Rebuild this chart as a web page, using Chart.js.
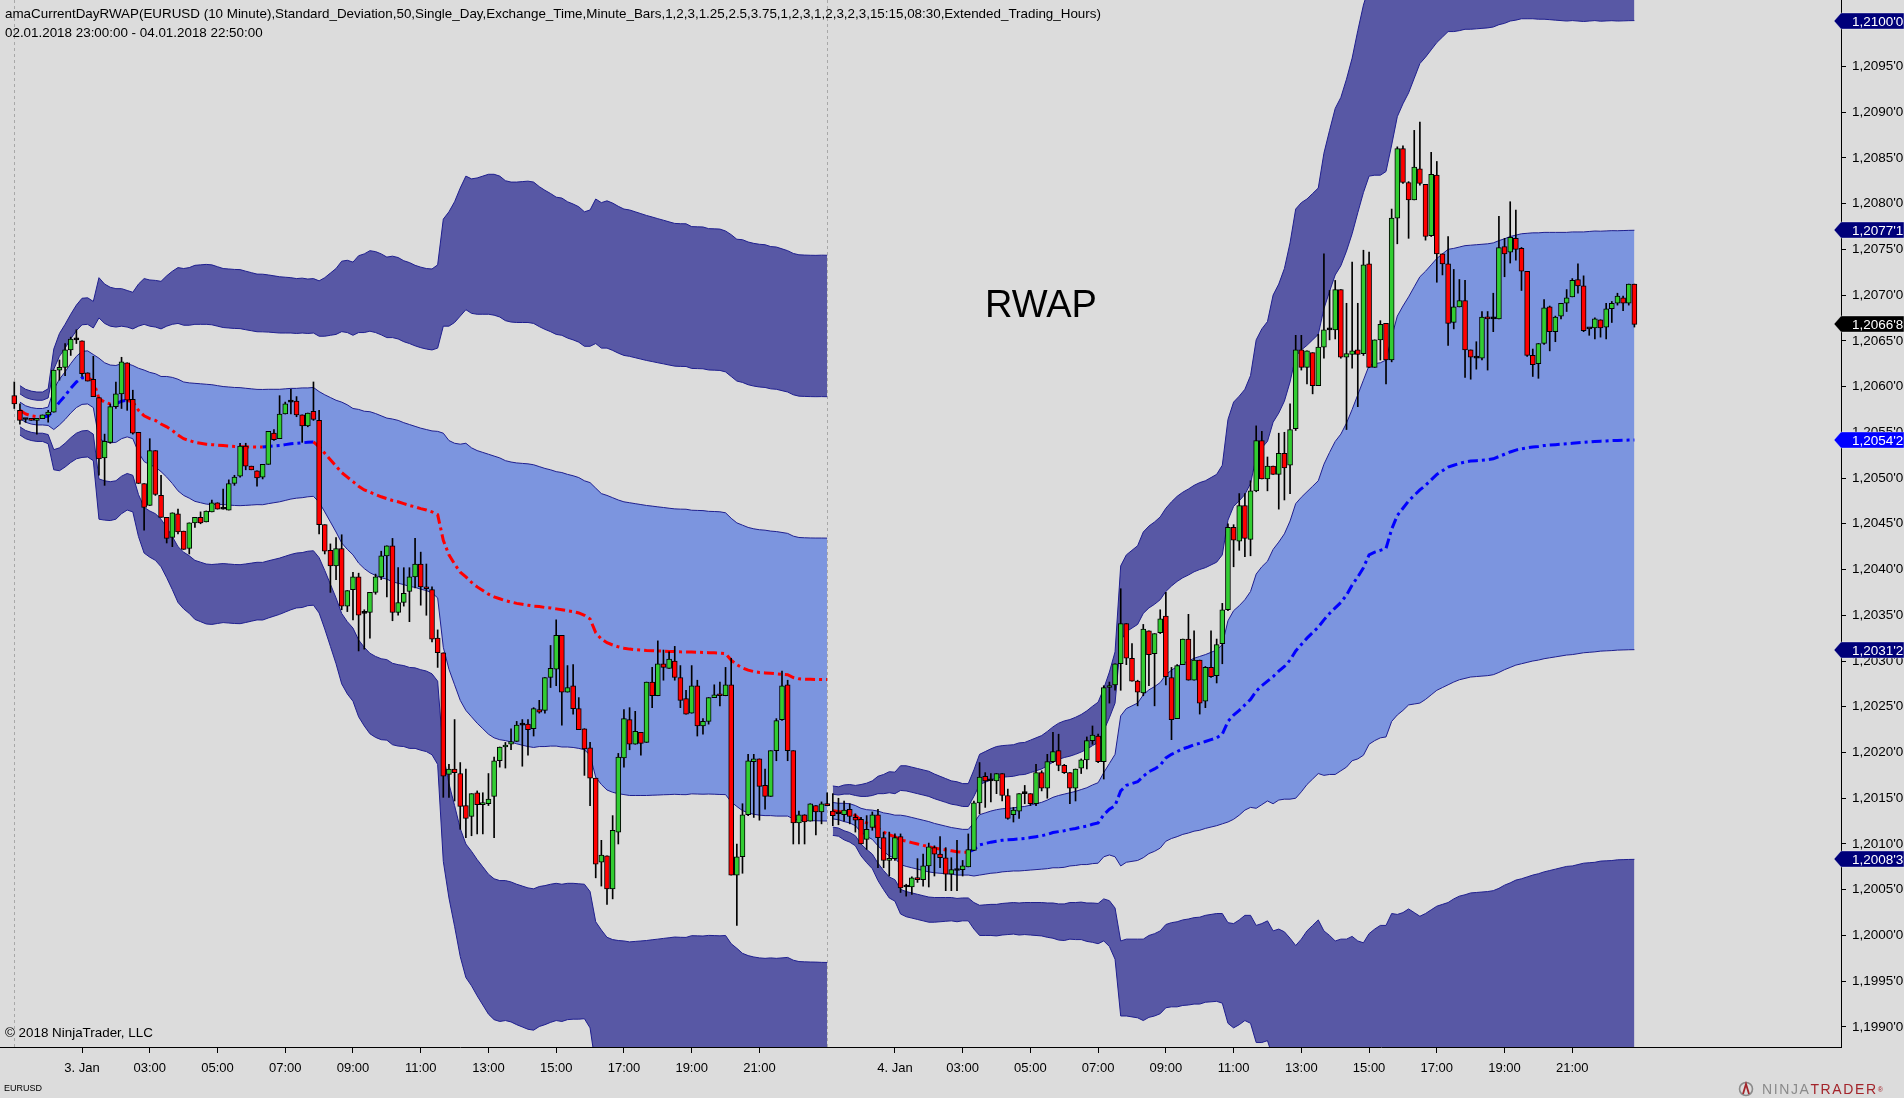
<!DOCTYPE html>
<html>
<head>
<meta charset="utf-8">
<title>amaCurrentDayRWAP - EURUSD (10 Minute)</title>
<script src="https://cdn.jsdelivr.net/npm/chart.js@4.4.1/dist/chart.umd.min.js"></script>
<style>
  html, body { margin: 0; padding: 0; background: #dcdcdc; }
  #wrap { position: relative; width: 1904px; height: 1098px; overflow: hidden; background: #dcdcdc;
          font-family: "Liberation Sans", Arial, sans-serif; }
  #chart { position: absolute; left: 0; top: 0; }
  .txt { position: absolute; color: #000; white-space: nowrap; line-height: 1; }
  .hdr { font-size: 13.4px; }
  #rwap { font-size: 38px; left: 1041px; top: 304px; transform: translate(-50%, -50%); }
  #inst { font-size: 9px; left: 4px; top: 1084px; }
  #logo { position: absolute; left: 1737px; top: 1081px; height: 16px; display: flex; align-items: center;
          font-size: 14px; letter-spacing: 1.6px; white-space: nowrap; }
  #logo .n { color: #8a8a8a; }
  #logo .t { color: #a3242a; }
  #logo sup { font-size: 7px; color: #a3242a; letter-spacing: 0; }
</style>
</head>
<body>
<div id="wrap">
  <canvas id="chart" width="1904" height="1098"></canvas>
  <div class="txt hdr" style="left:5px;top:7px">amaCurrentDayRWAP(EURUSD (10 Minute),Standard_Deviation,50,Single_Day,Exchange_Time,Minute_Bars,1,2,3,1.25,2.5,3.75,1,2,3,1,2,3,2,3,15:15,08:30,Extended_Trading_Hours)</div>
  <div class="txt hdr" style="left:5px;top:26px">02.01.2018 23:00:00 - 04.01.2018 22:50:00</div>
  <div class="txt" id="rwap">RWAP</div>
  <div class="txt hdr" style="left:5px;top:1026px">© 2018 NinjaTrader, LLC</div>
  <div class="txt" id="inst">EURUSD</div>
  <div id="logo">
    <svg width="22" height="16" viewBox="0 0 22 16" style="margin-right:3px">
      <circle cx="9" cy="8" r="6.5" fill="none" stroke="#8a8a8a" stroke-width="1.6"/>
      <path d="M6 13 L9 3 L12 13" fill="none" stroke="#a3242a" stroke-width="1.8"/>
    </svg>
    <span class="n">NINJA</span><span class="t">TRADER</span><sup>®</sup>
  </div>
</div>
<script>
// EURUSD 10 minute bars, 02.01.2018 23:00 -> 04.01.2018 22:50 (288 bars)
const opens = [
  1.20590,1.20574,1.20564,1.20565,1.20563,1.20565,1.20569,1.20572,1.20618,1.20621,1.20640,1.20651,
  1.20650,1.20615,1.20608,1.20588,1.20522,1.20539,1.20578,1.20592,1.20626,1.20586,1.20550,1.20494,
  1.20470,1.20530,1.20481,1.20457,1.20435,1.20461,1.20442,1.20423,1.20451,1.20457,1.20452,1.20463,
  1.20473,1.20466,1.20465,1.20494,1.20502,1.20535,1.20513,1.20508,1.20501,1.20515,1.20549,1.20543,
  1.20570,1.20583,1.20584,1.20569,1.20557,1.20573,1.20563,1.20449,1.20421,1.20404,1.20423,1.20360,
  1.20378,1.20392,1.20352,1.20353,1.20375,1.20392,1.20415,1.20426,1.20353,1.20364,1.20376,1.20392,
  1.20406,1.20381,1.20378,1.20325,1.20309,1.20176,1.20182,1.20177,1.20142,1.20130,1.20156,1.20143,
  1.20144,1.20152,1.20191,1.20206,1.20209,1.20212,1.20230,1.20231,1.20226,1.20247,1.20246,1.20282,
  1.20291,1.20328,1.20266,1.20273,1.20248,1.20226,1.20205,1.20172,1.20080,1.20087,1.20051,1.20113,
  1.20194,1.20236,1.20209,1.20222,1.20211,1.20277,1.20262,1.20297,1.20292,1.20300,1.20282,1.20259,
  1.20243,1.20273,1.20229,1.20234,1.20260,1.20264,1.20262,1.20274,1.20066,1.20086,1.20132,1.20190,
  1.20193,1.20164,1.20152,1.20202,1.20236,1.20274,1.20202,1.20123,1.20132,1.20125,1.20142,1.20135,
  1.20144,1.20136,1.20133,1.20132,1.20138,1.20129,1.20127,1.20105,1.20118,1.20132,1.20107,1.20082,
  1.20084,1.20108,1.20053,1.20053,1.20063,1.20061,1.20076,1.20096,1.20089,1.20085,1.20067,1.20071,
  1.20072,1.20075,1.20093,1.20145,1.20174,1.20169,1.20169,1.20177,1.20153,1.20132,1.20136,1.20155,
  1.20155,1.20144,1.20178,1.20161,1.20190,1.20202,1.20186,1.20178,1.20161,1.20183,1.20192,1.20213,
  1.20218,1.20190,1.20271,1.20274,1.20297,1.20341,1.20303,1.20278,1.20265,1.20333,1.20308,1.20331,
  1.20349,1.20282,1.20237,1.20296,1.20324,1.20279,1.20301,1.20256,1.20293,1.20284,1.20319,1.20356,
  1.20446,1.20431,1.20470,1.20433,1.20486,1.20541,1.20499,1.20513,1.20504,1.20527,1.20514,1.20554,
  1.20640,1.20621,1.20637,1.20601,1.20643,1.20662,1.20662,1.20706,1.20632,1.20635,1.20640,1.20636,
  1.20734,1.20621,1.20651,1.20669,1.20629,1.20784,1.20860,1.20823,1.20804,1.20838,1.20821,1.20765,
  1.20831,1.20745,1.20734,1.20670,1.20687,1.20694,1.20640,1.20631,1.20631,1.20676,1.20674,1.20674,
  1.20753,1.20747,1.20762,1.20751,1.20726,1.20634,1.20625,1.20647,1.20687,1.20660,1.20677,1.20691,
  1.20698,1.20717,1.20710,1.20663,1.20664,1.20673,1.20665,1.20685,1.20691,1.20697,1.20691,1.20712
];
const highs = [
  1.20605,1.20581,1.20565,1.20565,1.20565,1.20569,1.20574,1.20618,1.20629,1.20647,1.20654,1.20662,
  1.20650,1.20615,1.20633,1.20588,1.20548,1.20581,1.20605,1.20632,1.20626,1.20596,1.20550,1.20494,
  1.20543,1.20530,1.20503,1.20457,1.20462,1.20466,1.20442,1.20451,1.20457,1.20463,1.20464,1.20476,
  1.20473,1.20488,1.20498,1.20503,1.20538,1.20538,1.20513,1.20508,1.20515,1.20551,1.20553,1.20590,
  1.20583,1.20597,1.20589,1.20569,1.20571,1.20605,1.20574,1.20449,1.20428,1.20435,1.20438,1.20377,
  1.20397,1.20396,1.20356,1.20375,1.20395,1.20420,1.20426,1.20434,1.20402,1.20402,1.20402,1.20434,
  1.20419,1.20406,1.20381,1.20334,1.20309,1.20187,1.20236,1.20189,1.20182,1.20155,1.20158,1.20156,
  1.20177,1.20195,1.20206,1.20211,1.20226,1.20234,1.20236,1.20236,1.20249,1.20257,1.20282,1.20317,
  1.20345,1.20328,1.20295,1.20296,1.20260,1.20226,1.20211,1.20172,1.20104,1.20087,1.20131,1.20199,
  1.20247,1.20249,1.20245,1.20222,1.20277,1.20293,1.20322,1.20312,1.20310,1.20316,1.20295,1.20268,
  1.20295,1.20279,1.20237,1.20260,1.20274,1.20277,1.20293,1.20303,1.20100,1.20144,1.20198,1.20198,
  1.20193,1.20182,1.20202,1.20237,1.20289,1.20279,1.20202,1.20136,1.20132,1.20144,1.20142,1.20146,
  1.20156,1.20155,1.20150,1.20147,1.20144,1.20133,1.20129,1.20131,1.20135,1.20138,1.20113,1.20113,
  1.20111,1.20111,1.20056,1.20064,1.20084,1.20089,1.20101,1.20098,1.20108,1.20096,1.20085,1.20104,
  1.20082,1.20111,1.20147,1.20189,1.20178,1.20177,1.20177,1.20177,1.20160,1.20140,1.20155,1.20164,
  1.20155,1.20187,1.20180,1.20198,1.20222,1.20220,1.20187,1.20178,1.20182,1.20193,1.20217,1.20229,
  1.20220,1.20273,1.20277,1.20297,1.20379,1.20341,1.20319,1.20279,1.20340,1.20333,1.20330,1.20356,
  1.20375,1.20293,1.20296,1.20324,1.20351,1.20333,1.20301,1.20294,1.20333,1.20324,1.20363,1.20450,
  1.20449,1.20483,1.20483,1.20497,1.20557,1.20551,1.20523,1.20513,1.20549,1.20550,1.20581,1.20656,
  1.20656,1.20639,1.20637,1.20657,1.20745,1.20705,1.20716,1.20706,1.20691,1.20736,1.20691,1.20749,
  1.20747,1.20651,1.20672,1.20669,1.20794,1.20862,1.20863,1.20824,1.20880,1.20889,1.20821,1.20856,
  1.20846,1.20745,1.20764,1.20728,1.20717,1.20716,1.20640,1.20649,1.20682,1.20682,1.20702,1.20786,
  1.20762,1.20802,1.20793,1.20752,1.20726,1.20641,1.20647,1.20695,1.20688,1.20677,1.20691,1.20706,
  1.20718,1.20734,1.20721,1.20663,1.20675,1.20673,1.20691,1.20693,1.20702,1.20699,1.20712,1.20712
];
const lows = [
  1.20576,1.20559,1.20561,1.20563,1.20548,1.20565,1.20561,1.20572,1.20607,1.20612,1.20634,1.20647,
  1.20611,1.20606,1.20589,1.20503,1.20492,1.20538,1.20576,1.20576,1.20574,1.20548,1.20494,1.20443,
  1.20470,1.20481,1.20457,1.20429,1.20425,1.20439,1.20422,1.20417,1.20446,1.20450,1.20452,1.20463,
  1.20466,1.20466,1.20465,1.20492,1.20501,1.20509,1.20509,1.20491,1.20499,1.20515,1.20541,1.20543,
  1.20570,1.20570,1.20567,1.20539,1.20556,1.20563,1.20439,1.20417,1.20375,1.20389,1.20356,1.20354,
  1.20345,1.20311,1.20313,1.20325,1.20373,1.20389,1.20370,1.20344,1.20350,1.20360,1.20343,1.20380,
  1.20361,1.20350,1.20321,1.20293,1.20151,1.20151,1.20147,1.20116,1.20107,1.20109,1.20111,1.20111,
  1.20142,1.20107,1.20184,1.20183,1.20203,1.20212,1.20185,1.20197,1.20218,1.20243,1.20243,1.20271,
  1.20273,1.20230,1.20266,1.20242,1.20225,1.20175,1.20142,1.20063,1.20054,1.20034,1.20040,1.20100,
  1.20184,1.20203,1.20209,1.20197,1.20211,1.20249,1.20262,1.20279,1.20292,1.20279,1.20249,1.20242,
  1.20243,1.20218,1.20220,1.20231,1.20260,1.20251,1.20262,1.20066,1.20011,1.20068,1.20131,1.20129,
  1.20126,1.20138,1.20152,1.20191,1.20235,1.20191,1.20100,1.20100,1.20100,1.20125,1.20110,1.20122,
  1.20142,1.20120,1.20121,1.20125,1.20122,1.20113,1.20100,1.20094,1.20115,1.20074,1.20074,1.20065,
  1.20082,1.20047,1.20043,1.20045,1.20058,1.20054,1.20053,1.20065,1.20074,1.20049,1.20049,1.20049,
  1.20065,1.20075,1.20093,1.20133,1.20140,1.20146,1.20155,1.20147,1.20127,1.20124,1.20128,1.20144,
  1.20142,1.20142,1.20158,1.20150,1.20189,1.20180,1.20177,1.20144,1.20147,1.20177,1.20182,1.20209,
  1.20189,1.20171,1.20254,1.20268,1.20268,1.20296,1.20278,1.20251,1.20262,1.20273,1.20251,1.20330,
  1.20274,1.20214,1.20237,1.20296,1.20279,1.20279,1.20242,1.20249,1.20282,1.20276,1.20297,1.20355,
  1.20403,1.20421,1.20414,1.20415,1.20485,1.20499,1.20486,1.20504,1.20466,1.20476,1.20483,1.20552,
  1.20618,1.20603,1.20592,1.20601,1.20631,1.20651,1.20652,1.20631,1.20553,1.20620,1.20578,1.20634,
  1.20621,1.20621,1.20629,1.20603,1.20627,1.20756,1.20822,1.20762,1.20804,1.20820,1.20760,1.20764,
  1.20714,1.20722,1.20645,1.20663,1.20687,1.20610,1.20608,1.20619,1.20629,1.20618,1.20660,1.20674,
  1.20720,1.20735,1.20738,1.20705,1.20633,1.20611,1.20609,1.20646,1.20639,1.20649,1.20674,1.20682,
  1.20698,1.20702,1.20660,1.20656,1.20652,1.20654,1.20652,1.20670,1.20689,1.20683,1.20689,1.20665
];
const closes = [
  1.20581,1.20563,1.20564,1.20563,1.20565,1.20569,1.20572,1.20618,1.20621,1.20640,1.20652,1.20651,
  1.20614,1.20606,1.20589,1.20521,1.20540,1.20578,1.20592,1.20627,1.20585,1.20549,1.20494,1.20468,
  1.20530,1.20482,1.20457,1.20434,1.20462,1.20441,1.20422,1.20451,1.20457,1.20451,1.20464,1.20473,
  1.20466,1.20466,1.20494,1.20501,1.20535,1.20513,1.20509,1.20500,1.20515,1.20551,1.20542,1.20570,
  1.20581,1.20583,1.20569,1.20557,1.20571,1.20564,1.20449,1.20420,1.20404,1.20423,1.20360,1.20377,
  1.20392,1.20350,1.20352,1.20375,1.20392,1.20415,1.20426,1.20353,1.20364,1.20374,1.20392,1.20406,
  1.20381,1.20379,1.20324,1.20309,1.20174,1.20182,1.20178,1.20141,1.20128,1.20155,1.20143,1.20145,
  1.20149,1.20191,1.20206,1.20208,1.20212,1.20230,1.20230,1.20225,1.20248,1.20244,1.20282,1.20292,
  1.20328,1.20266,1.20271,1.20248,1.20225,1.20204,1.20172,1.20078,1.20088,1.20051,1.20115,1.20195,
  1.20237,1.20209,1.20223,1.20210,1.20277,1.20262,1.20297,1.20293,1.20302,1.20282,1.20257,1.20242,
  1.20273,1.20229,1.20234,1.20260,1.20263,1.20262,1.20274,1.20066,1.20086,1.20132,1.20191,1.20193,
  1.20163,1.20152,1.20202,1.20235,1.20273,1.20202,1.20123,1.20132,1.20124,1.20144,1.20135,1.20144,
  1.20142,1.20131,1.20133,1.20137,1.20130,1.20126,1.20100,1.20116,1.20132,1.20107,1.20082,1.20084,
  1.20107,1.20052,1.20053,1.20063,1.20061,1.20076,1.20097,1.20089,1.20085,1.20067,1.20072,1.20071,
  1.20076,1.20094,1.20145,1.20173,1.20169,1.20169,1.20177,1.20153,1.20128,1.20137,1.20155,1.20155,
  1.20144,1.20178,1.20161,1.20190,1.20201,1.20186,1.20178,1.20161,1.20182,1.20192,1.20213,1.20219,
  1.20190,1.20271,1.20273,1.20297,1.20341,1.20303,1.20278,1.20266,1.20335,1.20307,1.20330,1.20346,
  1.20283,1.20236,1.20295,1.20324,1.20279,1.20301,1.20254,1.20293,1.20283,1.20318,1.20356,1.20446,
  1.20432,1.20470,1.20434,1.20486,1.20541,1.20499,1.20513,1.20504,1.20527,1.20511,1.20553,1.20640,
  1.20621,1.20639,1.20601,1.20643,1.20662,1.20662,1.20706,1.20632,1.20636,1.20639,1.20635,1.20733,
  1.20621,1.20651,1.20668,1.20629,1.20784,1.20860,1.20823,1.20804,1.20840,1.20822,1.20764,1.20832,
  1.20745,1.20734,1.20669,1.20687,1.20694,1.20640,1.20632,1.20631,1.20676,1.20674,1.20674,1.20752,
  1.20745,1.20763,1.20750,1.20726,1.20634,1.20624,1.20647,1.20686,1.20660,1.20676,1.20691,1.20697,
  1.20716,1.20710,1.20661,1.20663,1.20674,1.20664,1.20685,1.20691,1.20699,1.20691,1.20712,1.20668
];

// RWAP (current day) and its standard deviation in pips; bar 0 closes the prior session
const vwap = [
  null,
  1.20574,1.20570,1.20568,1.20567,1.20567,1.205675,1.20575,1.20583,1.20590,1.20598,1.20605,1.206095,
  1.20610,1.20606,1.20587,1.20583,1.20581,1.20581,1.20584,1.20585,1.20583,1.20574,1.20568,1.20565,
  1.20563,1.20559,1.20556,1.20552,1.20547,1.20543,1.20541,1.20539,1.20538,1.20537,1.205365,1.20536,
  1.205355,1.20535,1.205345,1.205343,1.205341,1.20534,1.205339,1.205338,1.205345,1.20535,1.205355,1.205365,
  1.205375,1.20538,1.205385,1.20539,1.205395,1.20534,1.20527,1.20520,1.20513,1.20506,1.20501,1.20496,
  1.20491,1.20487,1.204845,1.20482,1.204795,1.204775,1.204755,1.20474,1.20472,1.20470,1.204685,1.204665,
  1.20465,1.20463,1.20460,1.20432,1.20416,1.20406,1.20397,1.20392,1.20386,1.20381,1.20377,1.20373,
  1.20370,1.20368,1.20366,1.203645,1.20363,1.20362,1.20361,1.20360,1.203595,1.203585,1.20358,1.20357,
  1.20356,1.20355,1.20354,1.203525,1.20350,1.20346,1.20331,1.20324,1.20320,1.203175,1.203155,1.20314,
  1.20313,1.203125,1.20312,1.203115,1.203113,1.20311,1.203108,1.203105,1.203103,1.20310,1.203099,1.203098,
  1.203096,1.203094,1.203091,1.203089,1.203086,1.20308,1.20301,1.20296,1.202925,1.20290,1.202885,1.202875,
  1.20287,1.202865,1.20286,1.202855,1.20285,1.20282,1.202805,1.202802,1.20280,1.202799,1.202798,1.202797,
  1.201364,1.201355,1.201345,1.201335,1.20131,1.20126,1.20123,1.20121,1.20117,1.20113,1.20110,1.20108,
  1.201045,1.20103,1.201015,1.20100,1.200985,1.20097,1.200955,1.200945,1.200935,1.200925,1.200915,1.20091,
  1.20091,1.20094,1.20099,1.201005,1.20102,1.20103,1.20104,1.201045,1.20105,1.201055,1.20106,1.20107,
  1.20108,1.20109,1.201105,1.201125,1.201135,1.201145,1.20116,1.20117,1.201185,1.201195,1.201215,1.20123,
  1.20132,1.20138,1.20142,1.20158,1.20164,1.20166,1.20168,1.20174,1.20179,1.20182,1.20186,1.20194,
  1.20198,1.20201,1.20204,1.20206,1.202085,1.20210,1.20212,1.20214,1.20216,1.20220,1.20234,1.20241,
  1.20246,1.20252,1.20258,1.20267,1.20273,1.20278,1.20283,1.20289,1.20294,1.20301,1.20311,1.20318,
  1.20325,1.20331,1.20337,1.20345,1.20352,1.20358,1.20364,1.20372,1.20383,1.20392,1.20402,1.20416,
  1.20419,1.20421,1.20423,1.20444,1.20459,1.20467,1.20475,1.20481,1.20487,1.20492,1.20498,1.20504,
  1.20508,1.20512,1.20514,1.20516,1.205175,1.205185,1.20519,1.205195,1.20520,1.20521,1.205235,1.20526,
  1.205285,1.205305,1.20532,1.20533,1.20534,1.205345,1.205355,1.20536,1.205365,1.20537,1.205375,1.20538,
  1.205385,1.20539,1.205395,1.20540,1.205403,1.205406,1.205409,1.205411,1.205413,1.205415,1.205416
];
const sdPips = [
  null,
  0.9,0.9,0.9,0.9,0.9,1.0,2.2,2.5,2.6,2.7,2.8,2.9,
  2.9,2.9,4.4,4.3,4.25,4.2,4.1,4.0,4.0,4.6,5.0,5.05,
  5.1,5.2,5.5,5.8,6.1,6.2,6.3,6.45,6.5,6.55,6.55,6.5,
  6.45,6.45,6.45,6.45,6.4,6.35,6.3,6.3,6.25,6.2,6.15,6.1,
  6.05,6.0,6.0,5.95,5.95,6.05,6.4,6.8,7.2,7.7,7.9,8.0,
  8.4,8.6,8.8,8.85,8.85,8.8,8.9,8.9,8.85,8.85,8.8,8.8,
  8.8,8.85,9.1,11.7,12.5,13.2,14.0,14.6,14.7,14.9,15.1,15.3,
  15.4,15.4,15.3,15.3,15.35,15.4,15.45,15.45,15.3,15.2,15.1,15.0,
  15.0,14.9,14.85,14.8,14.7,14.9,15.8,15.9,16.1,16.1,16.05,16.0,
  16.0,15.95,15.9,15.85,15.8,15.75,15.7,15.65,15.6,15.6,15.6,15.5,
  15.5,15.5,15.45,15.45,15.45,15.4,15.5,15.5,15.6,15.6,15.6,15.6,
  15.6,15.55,15.55,15.5,15.45,15.45,15.45,15.45,15.45,15.45,15.46,15.46,
  0.9,0.9,1.0,1.05,1.1,1.3,1.45,1.6,1.9,2.1,2.3,2.35,
  2.7,2.75,2.75,2.75,2.75,2.75,2.7,2.65,2.6,2.55,2.55,2.5,
  2.5,2.9,3.3,3.35,3.4,3.45,3.45,3.45,3.45,3.5,3.5,3.55,
  3.6,3.65,3.75,3.85,3.95,4.0,4.0,4.05,4.1,4.2,4.3,4.4,
  4.6,5.0,5.6,8.2,8.4,8.5,8.6,8.9,8.95,9.0,9.05,9.1,
  9.2,9.3,9.35,9.4,9.45,9.5,9.5,9.55,9.6,9.8,11.0,11.4,
  11.45,11.5,11.8,12.8,13.0,13.1,13.9,14.1,14.5,15.2,16.1,16.1,
  16.0,16.0,16.0,17.0,17.6,18.2,18.4,18.8,19.2,19.9,20.5,20.7,
  20.6,20.5,20.6,21.0,21.8,22.1,22.3,22.8,23.3,23.4,23.5,23.6,
  23.7,23.8,23.7,23.65,23.65,23.6,23.6,23.6,23.6,23.6,23.6,23.55,
  23.55,23.5,23.5,23.45,23.4,23.35,23.3,23.25,23.2,23.15,23.1,23.1,
  23.05,23.0,23.0,23.0,22.95,22.95,22.95,22.92,22.92,22.92,22.92
];

// sessions (first bar, last bar) and session break bars
const sessions = [[1, 144], [145, 287]];
const sessionBreaks = [0, 144];

// time axis: one tick every 12 bars (2 hours)
const tickBars = [12, 24, 36, 48, 60, 72, 84, 96, 108, 120, 132,
                  156, 168, 180, 192, 204, 216, 228, 240, 252, 264, 276];
const tickLabels = ['3. Jan', '03:00', '05:00', '07:00', '09:00', '11:00', '13:00', '15:00', '17:00', '19:00', '21:00',
                    '4. Jan', '03:00', '05:00', '07:00', '09:00', '11:00', '13:00', '15:00', '17:00', '19:00', '21:00'];
const priceTicks = [1.1990, 1.1995, 1.2000, 1.2005, 1.2010, 1.2015, 1.2020, 1.2025, 1.2030, 1.2035, 1.2040, 1.2045,
                    1.2050, 1.2055, 1.2060, 1.2065, 1.2070, 1.2075, 1.2080, 1.2085, 1.2090, 1.2095, 1.2100];

const PIP = 0.0001;
const GREEN = '#32cd32', RED = '#ff0000';
const LIGHT_BAND = '#7c95df', DARK_BAND = '#5858a5', EDGE = '#1e1e8e';
const VW_UP = '#0000ff', VW_DOWN = '#ff0000';
const FONT = '"Liberation Sans", Arial, sans-serif';

function fmtPrice(v) {
  const s = v.toFixed(5);
  return s.slice(0, 6).replace('.', ',') + "'" + s.slice(6);
}

// --- datasets ---
const bandDefs = [
  { k: 3, fill: '+1', bg: DARK_BAND },
  { k: 2, fill: false },
  { k: 1, fill: '+1', bg: LIGHT_BAND },
  { k: -1, fill: false },
  { k: -2, fill: '+1', bg: DARK_BAND },
  { k: -3, fill: false }
];

const datasets = [];
const sessionBars = sessions.map(([a, b]) => {
  const out = [];
  for (let i = a; i <= b; i++) out.push(i);
  return out;
});

sessionBars.forEach(bars => {
  bandDefs.forEach(d => {
    datasets.push({
      type: 'line',
      data: bars.map(i => ({ x: i, y: vwap[i] + d.k * sdPips[i] * PIP })),
      borderColor: EDGE,
      borderWidth: 1,
      backgroundColor: d.bg || 'rgba(0,0,0,0)',
      fill: d.fill,
      pointRadius: 0,
      tension: 0,
      order: 10
    });
  });
});

sessionBars.forEach(bars => {
  datasets.push({
    type: 'line',
    data: bars.map(i => ({ x: i, y: vwap[i] })),
    borderColor: VW_DOWN,
    borderWidth: 3,
    borderDash: [10, 4, 3, 4],
    borderCapStyle: 'butt',
    segment: {
      borderColor: c => (c.p1.parsed.y > c.p0.parsed.y ? VW_UP : VW_DOWN)
    },
    fill: false,
    pointRadius: 0,
    tension: 0,
    order: 5
  });
});

const allBars = closes.map((c, i) => i);

// wicks
datasets.push({
  type: 'bar',
  data: allBars.map(i => ({ x: i, y: [lows[i], highs[i]] })),
  backgroundColor: '#000',
  borderWidth: 0,
  grouped: false,
  barThickness: 1,
  maxBarThickness: 1,
  order: 2
});

// bodies
datasets.push({
  type: 'bar',
  data: allBars.map(i => ({ x: i, y: [opens[i], closes[i]] })),
  backgroundColor: allBars.map(i => closes[i] > opens[i] ? GREEN : (closes[i] < opens[i] ? RED : '#000')),
  borderColor: '#000',
  borderWidth: 1,
  borderSkipped: false,
  minBarLength: 2,
  grouped: false,
  barThickness: 5,
  maxBarThickness: 5,
  order: 1
});

// --- plugins ---
const sessionLines = {
  id: 'sessionLines',
  beforeDatasetsDraw(chart) {
    const { ctx, chartArea: a, scales: { x } } = chart;
    ctx.save();
    ctx.strokeStyle = '#a8a8a8';
    ctx.lineWidth = 1;
    ctx.setLineDash([3, 3]);
    sessionBreaks.forEach(b => {
      const px = Math.round(x.getPixelForValue(b)) + 0.5;
      ctx.beginPath();
      ctx.moveTo(px, a.top);
      ctx.lineTo(px, a.bottom);
      ctx.stroke();
    });
    ctx.restore();
  }
};

const priceMarkers = {
  id: 'priceMarkers',
  afterDraw(chart) {
    const { ctx, chartArea: a, scales: { y } } = chart;
    const last = closes.length - 1;
    const v = vwap[last], sd = sdPips[last] * PIP;
    const marks = [
      [v + 2 * sd, '#00007a'],
      [v + sd, '#00007a'],
      [closes[last], '#000000'],
      [v, '#0000ff'],
      [v - sd, '#00007a'],
      [v - 2 * sd, '#00007a']
    ];
    ctx.save();
    ctx.font = '13.5px ' + FONT;
    ctx.textBaseline = 'middle';
    marks.forEach(([val, col]) => {
      const py = Math.round(y.getPixelForValue(val));
      const x0 = a.right;
      ctx.beginPath();
      ctx.moveTo(x0 - 7, py);
      ctx.lineTo(x0, py - 8);
      ctx.lineTo(1904, py - 8);
      ctx.lineTo(1904, py + 8);
      ctx.lineTo(x0, py + 8);
      ctx.closePath();
      ctx.fillStyle = col;
      ctx.fill();
      ctx.strokeStyle = 'rgba(255,255,255,0.35)';
      ctx.lineWidth = 1;
      ctx.stroke();
      ctx.fillStyle = '#ffffff';
      ctx.fillText(fmtPrice(val), x0 + 11, py + 1);
    });
    ctx.restore();
  }
};

Chart.defaults.color = '#000';
Chart.defaults.font.family = FONT;

new Chart(document.getElementById('chart'), {
  type: 'bar',
  data: { datasets },
  options: {
    responsive: false,
    animation: false,
    devicePixelRatio: 1,
    layout: { padding: 0 },
    plugins: {
      legend: { display: false },
      tooltip: { enabled: false },
      filler: { drawTime: 'beforeDatasetsDraw' }
    },
    scales: {
      x: {
        type: 'linear',
        position: 'bottom',
        min: -2.53,
        max: 323.6,
        offset: false,
        grid: { display: true, drawOnChartArea: false, drawTicks: true, tickLength: 6, color: '#000', offset: false },
        border: { display: true, color: '#000', width: 1 },
        ticks: {
          autoSkip: false,
          maxRotation: 0,
          padding: 8,
          font: { size: 13 },
          callback: v => {
            const k = tickBars.indexOf(v);
            return k >= 0 ? tickLabels[k] : '';
          }
        },
        afterBuildTicks: s => { s.ticks = tickBars.map(v => ({ value: v })); },
        afterFit: s => { s.height = 51; s.paddingLeft = 0; s.paddingRight = 0; }
      },
      y: {
        type: 'linear',
        position: 'right',
        min: 1.198781,
        max: 1.210225,
        grid: { display: true, drawOnChartArea: false, drawTicks: true, tickLength: 5, color: '#000' },
        border: { display: true, color: '#000', width: 1 },
        ticks: {
          autoSkip: false,
          padding: 6,
          font: { size: 13.5 },
          callback: v => fmtPrice(v)
        },
        afterBuildTicks: s => { s.ticks = priceTicks.map(v => ({ value: v })); },
        afterFit: s => { s.width = 63; s.paddingTop = 0; s.paddingBottom = 0; }
      }
    }
  },
  plugins: [sessionLines, priceMarkers]
});
</script>
</body>
</html>
